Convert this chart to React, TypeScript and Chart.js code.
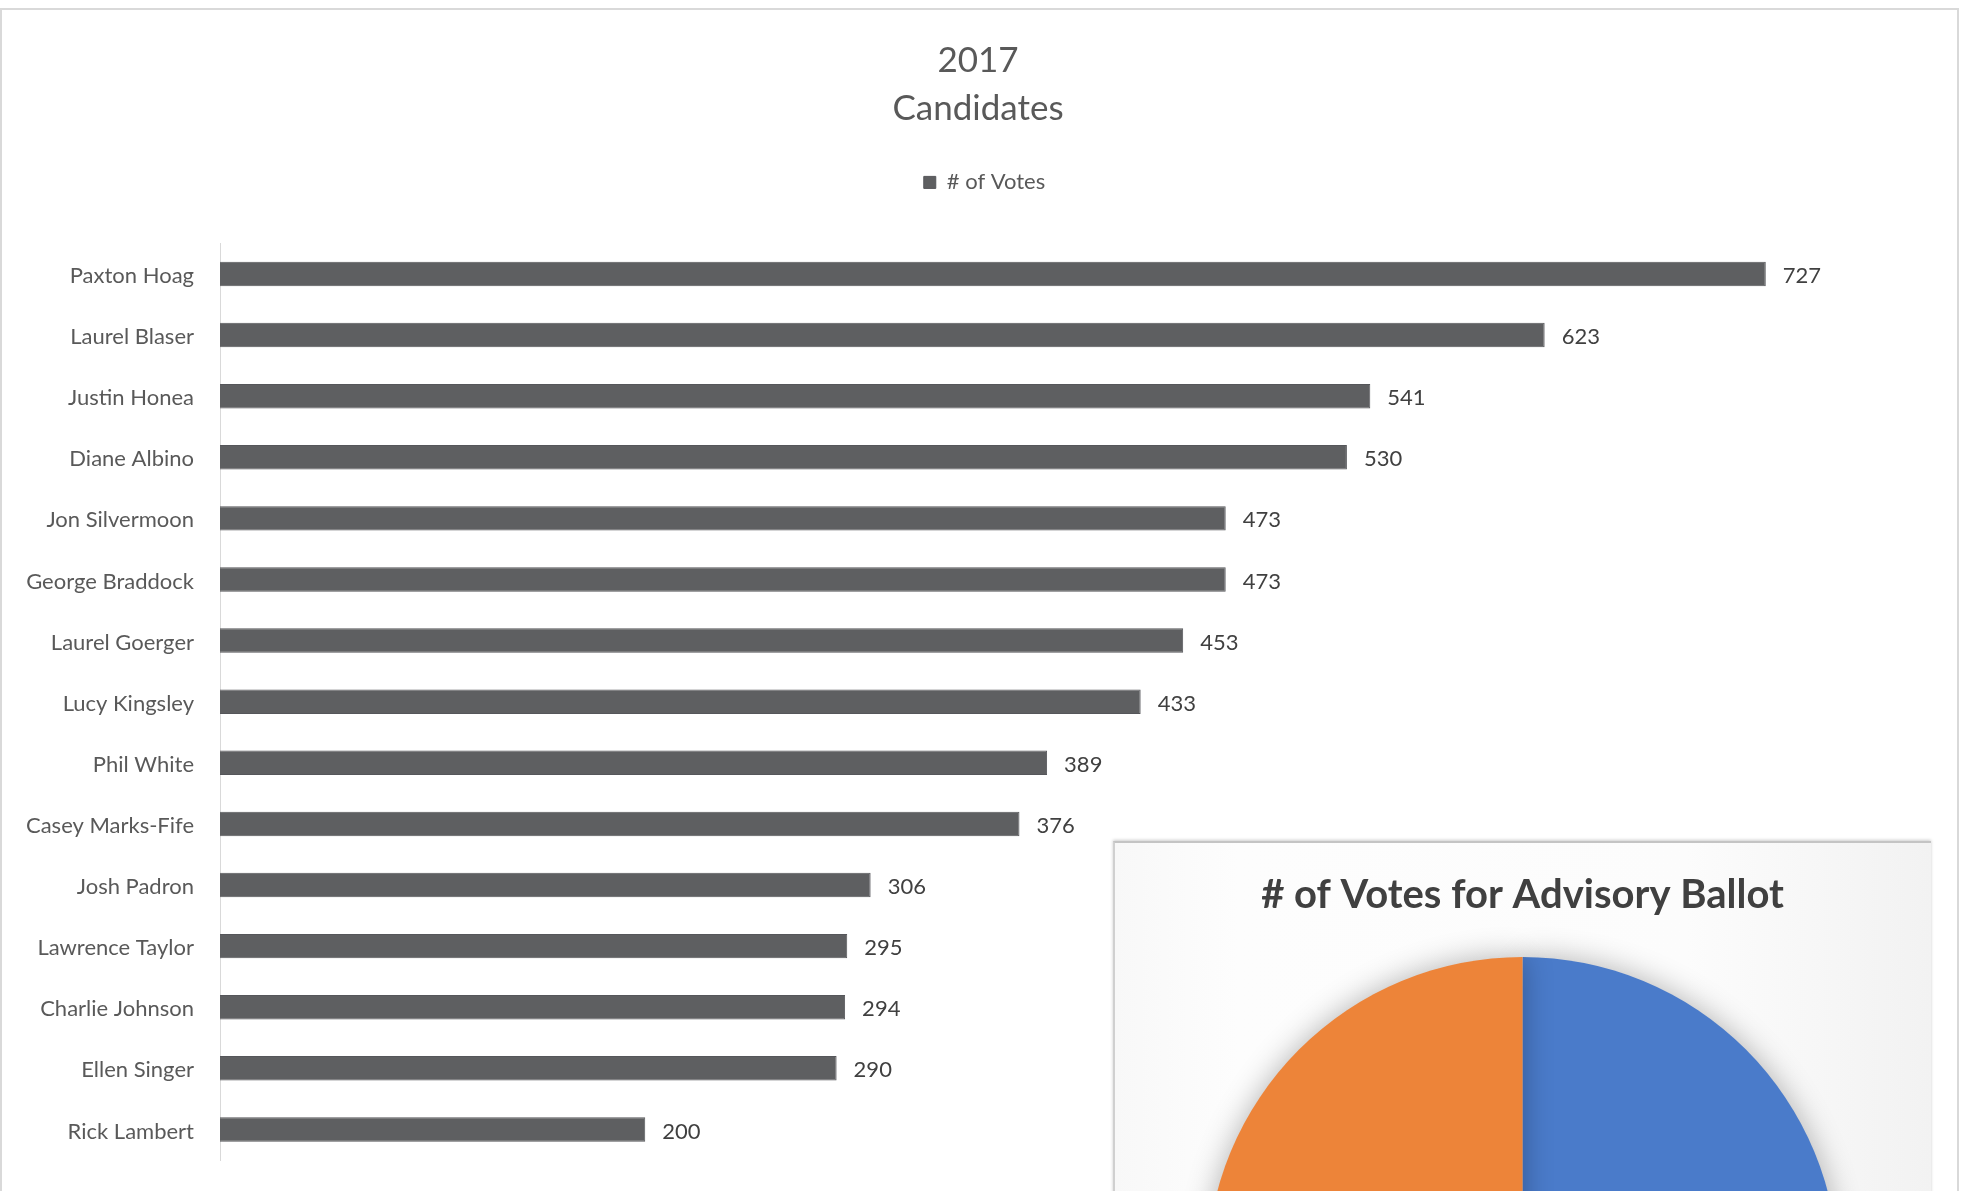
import React, { useEffect, useRef } from "react";
import { Chart, registerables } from "chart.js";

Chart.register(...registerables);

const categories = [
  "Paxton Hoag",
  "Laurel Blaser",
  "Justin Honea",
  "Diane Albino",
  "Jon Silvermoon",
  "George Braddock",
  "Laurel Goerger",
  "Lucy Kingsley",
  "Phil White",
  "Casey Marks-Fife",
  "Josh Padron",
  "Lawrence Taylor",
  "Charlie Johnson",
  "Ellen Singer",
  "Rick Lambert",
];
const votes = [727, 623, 541, 530, 473, 473, 453, 433, 389, 376, 306, 295, 294, 290, 200];
const seriesLabel = "# of Votes";
const titleLines = ["2017", "Candidates"];
const xMin = 0;
const xMax = 800;

const pieTitle = "# of Votes for Advisory Ballot";
const pieLabels = ["Yes", "No"];
const pieValues = [50, 50];

const FONT = "Lato, 'Open Sans', sans-serif";

const valueLabelPlugin = {
  id: "valueLabels",
  afterDatasetsDraw(chart: any) {
    const { ctx } = chart;
    const meta = chart.getDatasetMeta(0);
    const data = chart.data.datasets[0].data;
    ctx.save();
    ctx.font = `22px ${FONT}`;
    ctx.fillStyle = "#404040";
    ctx.textAlign = "left";
    ctx.textBaseline = "middle";
    meta.data.forEach((bar: any, i: number) => {
      ctx.fillText(String(data[i]), bar.x + 17, bar.y + 2);
    });
    ctx.restore();
  },
};

// shift the title and legend so they are centred like the original
const headerShiftPlugin = {
  id: "headerShift",
  afterLayout(chart: any) {
    const t = chart.titleBlock;
    if (t) {
      t.left += 17.5;
      t.right += 17.5;
    }
    const l = chart.legend;
    if (l) {
      l.left += 24;
      l.right += 24;
    }
  },
};

const shadowPlugin = {
  id: "pieShadow",
  beforeDatasetsDraw(chart: any) {
    const { ctx } = chart;
    ctx.save();
    ctx.shadowColor = "rgba(0,0,0,0.3)";
    ctx.shadowBlur = 30;
    ctx.shadowOffsetX = 0;
    ctx.shadowOffsetY = 0;
  },
  afterDatasetsDraw(chart: any) {
    chart.ctx.restore();
  },
};

export default function App() {
  const barRef = useRef<HTMLCanvasElement>(null);
  const pieRef = useRef<HTMLCanvasElement>(null);

  useEffect(() => {
    const bar = new Chart(barRef.current as HTMLCanvasElement, {
      type: "bar",
      data: {
        labels: categories,
        datasets: [
          {
            label: seriesLabel,
            data: votes,
            backgroundColor: "#5e5f61",
            borderColor: "#55565a",
            borderWidth: 1,
            barPercentage: 1,
            categoryPercentage: 0.4,
          },
        ],
      },
      options: {
        indexAxis: "y",
        responsive: false,
        animation: false,
        layout: { padding: { left: 0, right: 46, top: 0, bottom: 31 } },
        scales: {
          x: {
            position: "top",
            min: xMin,
            max: xMax,
            ticks: { display: false },
            grid: { display: false, drawTicks: false },
            border: { display: false },
            afterFit(s: any) {
              s.height = 40;
            },
          },
          y: {
            grid: { display: false, drawTicks: false },
            border: { display: true, color: "#d9d9d9", width: 1 },
            ticks: {
              padding: 26,
              labelOffset: 2,
              color: "#595959",
              font: { family: FONT, size: 22 },
            },
            afterFit(s: any) {
              s.width = 220;
              s.paddingTop = 0;
              s.paddingBottom = 0;
            },
          },
        },
        plugins: {
          title: {
            display: true,
            text: titleLines,
            color: "#595959",
            font: { family: FONT, size: 35, weight: "normal", lineHeight: 1.37 },
            padding: { top: 37, bottom: 28.5 },
          },
          legend: {
            display: true,
            labels: {
              color: "#595959",
              font: { family: FONT, size: 22 },
              boxWidth: 12,
              boxHeight: 12,
              padding: 10,
            },
          },
          tooltip: { enabled: false },
        },
      } as any,
      plugins: [valueLabelPlugin, headerShiftPlugin],
    });

    const pie = new Chart(pieRef.current as HTMLCanvasElement, {
      type: "pie",
      data: {
        labels: pieLabels,
        datasets: [
          {
            data: pieValues,
            backgroundColor: ["#4a7bca", "#ed8439"],
            borderWidth: 0,
          },
        ],
      },
      options: {
        responsive: false,
        animation: false,
        layout: { padding: { left: 91.5, right: 91.5, top: 0, bottom: 0 } },
        plugins: {
          title: {
            display: true,
            text: pieTitle,
            color: "#404040",
            font: { family: FONT, size: 40, weight: "bold", lineHeight: 1.2 },
            padding: { top: 28.5, bottom: 37.5 },
          },
          legend: { display: false },
          tooltip: { enabled: false },
        },
      } as any,
      plugins: [shadowPlugin],
    });

    return () => {
      bar.destroy();
      pie.destroy();
    };
  }, []);

  return (
    <div
      style={{
        position: "absolute",
        left: 0,
        top: 0,
        width: 1967,
        height: 1191,
        overflow: "hidden",
        background: "#ffffff",
      }}
    >
      <div
        style={{
          position: "absolute",
          left: 0,
          top: 8,
          width: 1955,
          height: 1300,
          border: "2px solid #d9d9d9",
          boxSizing: "content-box",
        }}
      />
      <canvas
        ref={barRef}
        width={1967}
        height={1191}
        style={{ position: "absolute", left: 0, top: 0, width: 1967, height: 1191, display: "block" }}
      />
      <div
        style={{
          position: "absolute",
          left: 1113,
          top: 841,
          width: 816,
          height: 760,
          background: "linear-gradient(90deg, #f8f8f8 0%, #fdfdfd 15%, #fcfcfc 70%, #f2f2f2 100%)",
          boxShadow: "0 -1px 3px rgba(0,0,0,0.2)",
          borderTop: "2px solid #c4c4c4",
          borderLeft: "2px solid #d0d0d0",
        }}
      >
        <canvas
          ref={pieRef}
          width={815}
          height={746}
          style={{ position: "absolute", left: 0, top: 0, width: 815, height: 746, display: "block" }}
        />
      </div>
    </div>
  );
}
